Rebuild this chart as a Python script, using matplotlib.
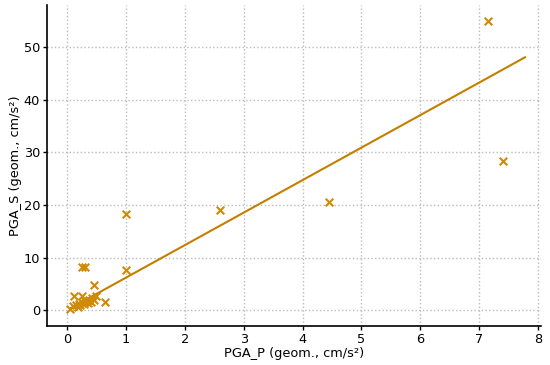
import matplotlib
matplotlib.use("Agg")
import matplotlib.pyplot as plt
import numpy as np

pga_p = [0.05, 0.10, 0.15, 0.18, 0.20, 0.22, 0.25, 0.28, 0.30, 0.35, 0.38, 0.40,
         0.42, 0.45, 0.50, 0.12, 0.25, 0.45, 0.65, 0.26, 0.31,
         1.00, 1.00, 2.59, 4.45, 7.15, 7.40]
pga_s = [0.3, 0.8, 1.0, 0.6, 1.2, 0.9, 1.5, 1.1, 1.8, 1.3, 2.0, 1.6,
         2.3, 1.9, 2.6, 2.7, 2.7, 4.7, 1.5, 8.3, 8.3,
         18.3, 7.6, 19.0, 20.5, 54.9, 28.3]
fit_slope = 6.18
fit_intercept = 0.0
fit_x_range = [0.05, 7.78]
x_ticks = [0, 1, 2, 3, 4, 5, 6, 7, 8]
y_ticks = [0, 10, 20, 30, 40, 50]

fig = plt.figure(figsize=(5.5, 3.65), dpi=100)
ax = fig.add_axes([0.0855, 0.107, 0.898, 0.879])

marker_color = "#cf8a06"
line_color = "#c47f00"

ax.scatter(pga_p, pga_s, marker="x", color=marker_color, s=30, linewidths=1.5, zorder=3)
fx = np.array(fit_x_range)
ax.plot(fx, fit_slope * fx + fit_intercept, color=line_color, linewidth=1.5, zorder=2)

ax.set_xlim(-0.34, 8.05)
ax.set_ylim(-3.0, 58.0)
ax.set_xticks(x_ticks)
ax.set_yticks(y_ticks)
ax.grid(True, linestyle=":", color="#bbbbbb", linewidth=1.0)
ax.set_axisbelow(True)
for s in ["top", "right"]:
    ax.spines[s].set_visible(False)
for s in ["left", "bottom"]:
    ax.spines[s].set_linewidth(1.2)
ax.tick_params(labelsize=9.3, length=3, width=1, pad=2)
ax.set_xlabel("PGA_P (geom., cm/s²)", fontsize=9.3, labelpad=1)
ax.set_ylabel("PGA_S (geom., cm/s²)", fontsize=9.3, labelpad=1)

fig.savefig("out.png", dpi=100)
